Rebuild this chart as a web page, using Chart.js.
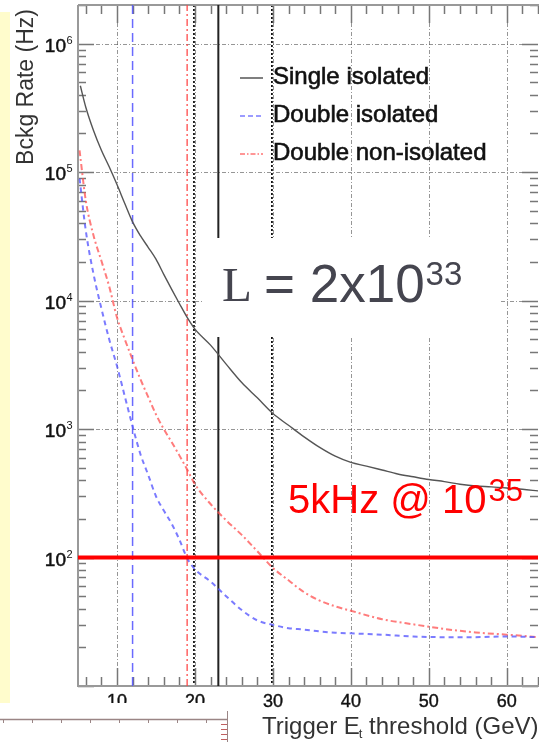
<!DOCTYPE html>
<html><head><meta charset="utf-8">
<script src="https://cdn.jsdelivr.net/npm/chart.js@4"></script>
<style>html,body{margin:0;padding:0;background:#fff;overflow:hidden}canvas{display:block}</style>
</head><body>
<canvas id="c" width="539" height="742"></canvas>
<script>
// ---- data ----
const seriesNames = ['Single isolated', 'Double isolated', 'Double non-isolated'];
const xSingle = [5.3,6,7,8,9,10,11,12,13,14,15,16,17,18,19,20,22,24,26,28,30,32,34,36,38,40,42,44,46,48,50,52,54,56,58,60,62,64];
const ySingle = [4.7e5,3.2e5,2.1e5,1.48e5,1.1e5,8.0e4,5.7e4,4.1e4,3.2e4,2.6e4,2.1e4,1.6e4,1.23e4,9.5e3,7.4e3,6.0e3,4.5e3,3.2e3,2.3e3,1.75e3,1.32e3,1.07e3,870,720,615,550,515,480,447,425,405,390,372,360,355,348,340,330];
const xDouble = [5.2,6,7,8,9,10,11,12,13,14,15,16,17,18,19,20,22,24,26,28,30,32,34,36,38,40,44,48,52,56,60,64];
const yDoubleIso = [8.9e4,3.5e4,1.6e4,8.7e3,5.0e3,3.1e3,1.8e3,1.05e3,640,440,300,232,184,138,99,81,65,50,39,32.4,29.9,28.2,27.5,26.6,26,25.7,25.1,24.3,24,24,24.3,24];
const yDoubleNonIso = [1.48e5,6.0e4,3.2e4,2.04e4,1.29e4,7.4e3,5.0e3,3.47e3,2.45e3,1.78e3,1.3e3,1.0e3,794,624,484,372,261,195,150,112,83,66.5,53.7,46.2,41.7,38.5,33.1,30.2,27.8,26.1,25.1,24];
const xRange = [5, 64];
const yRange = [10, 2e6];
const xTickLabels = [10, 20, 30, 40, 50, 60];
const yTickExponents = [2, 3, 4, 5, 6];
const thresholdBlue = 12, thresholdRed = 19, thresholdBlack = 23;
const rateLimit = 100;
const darkGridX = [20, 30];
const lumiText = ['L', '= 2x10', '33'];
const rateText = ['5kHz @ 10', '35'];
const xTitle = ['Trigger E', 't', ' threshold (GeV)'];
const yTitle = 'Bckg Rate (Hz)';

const pts = (xs, ys) => xs.map((x, i) => ({x, y: ys[i]}));
const vline = v => [{x: v, y: yRange[0]}, {x: v, y: yRange[1]}];

const SANS = '"Liberation Sans", Arial, sans-serif';
const SERIF = '"Liberation Serif", "Times New Roman", serif';

function heavyText(ctx, s, x, y, w) {
  ctx.fillText(s, x, y);
  ctx.lineWidth = w;
  ctx.strokeStyle = ctx.fillStyle;
  ctx.strokeText(s, x, y);
}

const deco = {
  id: 'deco',
  beforeDraw(chart) {
    const ctx = chart.ctx;
    ctx.save();
    ctx.fillStyle = '#ffffff';
    ctx.fillRect(0, 0, chart.width, chart.height);
    ctx.fillStyle = '#fffccc';
    ctx.fillRect(0, 12, 10, 691);
    ctx.restore();
  },
  beforeDatasetsDraw(chart) {
    const ctx = chart.ctx, a = chart.chartArea, sx = chart.scales.x, sy = chart.scales.y;
    ctx.save();
    // grid
    ctx.lineWidth = 1;
    ctx.strokeStyle = 'rgba(80,80,80,0.6)';
    ctx.setLineDash([4, 2, 1, 2]);
    yTickExponents.forEach(e => {
      const y = Math.round(sy.getPixelForValue(Math.pow(10, e))) + 0.5;
      ctx.beginPath(); ctx.moveTo(a.left, y); ctx.lineTo(a.right, y); ctx.stroke();
    });
    xTickLabels.forEach(v => {
      const x = Math.round(sx.getPixelForValue(v)) + 0.5;
      ctx.beginPath(); ctx.moveTo(x, a.top); ctx.lineTo(x, a.bottom); ctx.stroke();
    });
    ctx.strokeStyle = '#111';
    ctx.lineWidth = 1.8;
    ctx.setLineDash([2, 2]);
    darkGridX.forEach(v => {
      const x = sx.getPixelForValue(v) - 1;
      ctx.beginPath(); ctx.moveTo(x, a.top); ctx.lineTo(x, a.bottom); ctx.stroke();
    });
    ctx.setLineDash([]);
    // ticks x (bottom and top)
    ctx.strokeStyle = '#777';
    ctx.lineWidth = 1.5;
    for (let v = 6; v <= xRange[1]; v += 2) {
      const x = Math.round(sx.getPixelForValue(v)) + 0.5;
      const len = v % 10 === 0 ? 18 : 9;
      ctx.beginPath(); ctx.moveTo(x, a.bottom); ctx.lineTo(x, a.bottom - len); ctx.stroke();
      ctx.beginPath(); ctx.moveTo(x, a.top); ctx.lineTo(x, a.top + len); ctx.stroke();
    }
    // ticks y (left and right)
    for (let e = 1; e <= 6; e++) {
      for (let m = 1; m <= 9; m++) {
        const v = m * Math.pow(10, e);
        if (v < yRange[0] || v > yRange[1]) continue;
        const y = Math.round(sy.getPixelForValue(v)) + 0.5;
        const len = m === 1 ? 16 : 8;
        ctx.beginPath(); ctx.moveTo(a.left, y); ctx.lineTo(a.left + len, y); ctx.stroke();
        ctx.beginPath(); ctx.moveTo(a.right, y); ctx.lineTo(a.right - len, y); ctx.stroke();
      }
    }
    // axis frame
    ctx.strokeStyle = '#999';
    ctx.lineWidth = 2;
    ctx.beginPath();
    ctx.moveTo(a.left, a.top); ctx.lineTo(a.left, a.bottom); ctx.lineTo(a.right + 2, a.bottom);
    ctx.moveTo(a.left, a.top); ctx.lineTo(a.right + 2, a.top);
    ctx.stroke();
    ctx.restore();
  },
  afterDatasetsDraw(chart) {
    const ctx = chart.ctx, a = chart.chartArea, sx = chart.scales.x, sy = chart.scales.y;
    ctx.save();
    // luminosity box
    ctx.fillStyle = '#ffffff';
    ctx.fillRect(203, 238, 297, 99);
    ctx.fillStyle = '#45454f';
    ctx.textBaseline = 'alphabetic';
    ctx.textAlign = 'left';
    ctx.font = '49px ' + SERIF;
    ctx.fillText(lumiText[0], 222, 301);
    ctx.font = '53px ' + SANS;
    ctx.fillText(lumiText[1], 264, 302);
    const w1 = ctx.measureText(lumiText[1]).width;
    ctx.font = '33px ' + SANS;
    ctx.fillText(lumiText[2], 264 + w1 + 1, 285);

    // legend
    const rows = [84, 122, 160];
    const styles = [
      {c: '#555', d: []},
      {c: 'rgba(90,90,255,0.8)', d: [5, 3]},
      {c: 'rgba(255,80,80,0.8)', d: [5, 2, 1.5, 2]}
    ];
    rows.forEach((b, i) => {
      ctx.strokeStyle = styles[i].c; ctx.setLineDash(styles[i].d); ctx.lineWidth = 1.5;
      ctx.beginPath(); ctx.moveTo(240, b - 6); ctx.lineTo(263, b - 6); ctx.stroke();
      ctx.setLineDash([]);
      ctx.fillStyle = '#111';
      ctx.font = '24px ' + SANS;
      heavyText(ctx, seriesNames[i], 273, b, 0.6);
    });

    // y tick labels
    ctx.fillStyle = '#111';
    yTickExponents.forEach(e => {
      const y = sy.getPixelForValue(Math.pow(10, e));
      ctx.textAlign = 'right';
      ctx.font = '19px ' + SANS;
      heavyText(ctx, '10', 66, y + 8, 0.5);
      ctx.textAlign = 'left';
      ctx.font = '11px ' + SANS;
      ctx.fillText(String(e), 66.5, y + 0);
    });
    // x tick labels
    ctx.textAlign = 'center';
    ctx.font = '18px ' + SANS;
    xTickLabels.forEach(v => {
      heavyText(ctx, String(v), sx.getPixelForValue(v), 707, 0.4);
    });
    // x title
    ctx.fillStyle = '#333';
    ctx.font = '24px ' + SANS;
    ctx.textAlign = 'left';
    let x0 = 262;
    ctx.fillText(xTitle[0], x0, 734); x0 += ctx.measureText(xTitle[0]).width;
    ctx.font = '13px ' + SANS;
    ctx.fillText(xTitle[1], x0 - 1, 738); x0 += ctx.measureText(xTitle[1]).width - 1;
    ctx.font = '24px ' + SANS;
    ctx.fillText(xTitle[2], x0, 734);
    // y title
    ctx.save();
    ctx.translate(33, 87);
    ctx.rotate(-Math.PI / 2);
    ctx.textAlign = 'center';
    ctx.font = '23px ' + SANS;
    ctx.fillText(yTitle, 0, 0);
    ctx.restore();

    // fragment of another figure at lower left
    ctx.fillStyle = '#ffffff';
    ctx.fillRect(0, 703, 236, 39);
    ctx.strokeStyle = '#9a8585';
    ctx.lineWidth = 1.5;
    ctx.beginPath(); ctx.moveTo(0, 719.5); ctx.lineTo(227, 719.5); ctx.stroke();
    ctx.lineWidth = 1;
    for (let t = 3; t < 225; t += 29) {
      ctx.beginPath(); ctx.moveTo(t + 0.5, 719); ctx.lineTo(t + 0.5, 723); ctx.stroke();
    }
    ctx.beginPath(); ctx.moveTo(227.5, 711); ctx.lineTo(227.5, 742); ctx.stroke();
    ctx.strokeStyle = '#c06060';
    [724, 729, 734, 739].forEach(y => {
      ctx.beginPath(); ctx.moveTo(221, y + 0.5); ctx.lineTo(227, y + 0.5); ctx.stroke();
    });

    // red rate annotation
    ctx.fillStyle = '#ff0000';
    ctx.font = '40px ' + SANS;
    ctx.fillText(rateText[0], 288, 513);
    const w2 = ctx.measureText(rateText[0]).width;
    ctx.font = '31px ' + SANS;
    ctx.fillText(rateText[1], 288 + w2 + 2, 501);
    ctx.restore();
  }
};

const curve = {cubicInterpolationMode: 'monotone'};

new Chart(document.getElementById('c'), {
  type: 'line',
  data: {
    datasets: [
      {label: 'limit', data: [{x: xRange[0], y: rateLimit}, {x: xRange[1], y: rateLimit}], borderColor: '#ff0000', borderWidth: 4},
      Object.assign({label: seriesNames[0], data: pts(xSingle, ySingle), borderColor: '#555', borderWidth: 1.4}, curve),
      Object.assign({label: seriesNames[1], data: pts(xDouble, yDoubleIso), borderColor: 'rgba(90,90,255,0.8)', borderWidth: 2, borderDash: [5, 4]}, curve),
      Object.assign({label: seriesNames[2], data: pts(xDouble, yDoubleNonIso), borderColor: 'rgba(255,80,80,0.75)', borderWidth: 2, borderDash: [6, 3, 2, 3]}, curve),
      {label: 'cut black', data: vline(thresholdBlack), borderColor: '#222', borderWidth: 2},
      {label: 'cut red', data: vline(thresholdRed), borderColor: 'rgba(255,70,70,0.85)', borderWidth: 1.5, borderDash: [7, 3, 2, 3]},
      {label: 'cut blue', data: vline(thresholdBlue), borderColor: 'rgba(80,80,255,0.85)', borderWidth: 1.5, borderDash: [9, 5]}
    ]
  },
  options: {
    responsive: false,
    animation: false,
    devicePixelRatio: 1,
    layout: {padding: {top: 5, right: 1, left: 0, bottom: 0}},
    elements: {point: {radius: 0}, line: {tension: 0, fill: false}},
    plugins: {legend: {display: false}, tooltip: {enabled: false}},
    scales: {
      x: {type: 'linear', min: xRange[0], max: xRange[1], grid: {display: false}, border: {display: false}, ticks: {display: false},
          afterFit(s) { s.height = 56; }},
      y: {type: 'logarithmic', min: yRange[0], max: yRange[1], grid: {display: false}, border: {display: false}, ticks: {display: false},
          afterFit(s) { s.width = 78; }}
    }
  },
  plugins: [deco]
});
</script>
</body></html>
